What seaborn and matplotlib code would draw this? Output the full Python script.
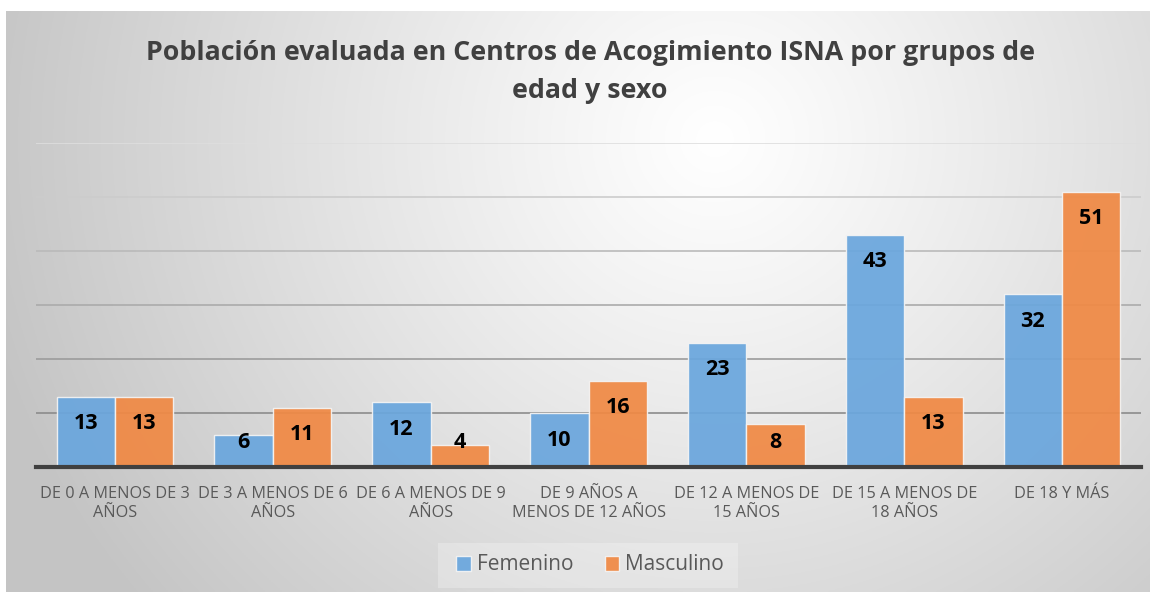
import numpy as np
import pandas as pd
import matplotlib
matplotlib.use("Agg")
import matplotlib.pyplot as plt
import seaborn as sns
from matplotlib.patches import Patch, Rectangle

categories = ["DE 0 A MENOS DE 3\nAÑOS", "DE 3 A MENOS DE 6\nAÑOS", "DE 6 A MENOS DE 9\nAÑOS",
              "DE 9 AÑOS A\nMENOS DE 12 AÑOS", "DE 12 A MENOS DE\n15 AÑOS", "DE 15 A MENOS DE\n18 AÑOS",
              "DE 18 Y MÁS"]
femenino = [13, 6, 12, 10, 23, 43, 32]
masculino = [13, 11, 4, 16, 8, 13, 51]
series = ["Femenino", "Masculino"]
title = "Población evaluada en Centros de Acogimiento ISNA por grupos de\nedad y sexo"
grid_values = [10, 20, 30, 40, 50, 60]

df = pd.DataFrame({
    "grupo": categories * 2,
    "valor": femenino + masculino,
    "sexo": [series[0]] * len(categories) + [series[1]] * len(categories),
})

sns.set_style("white")
plt.rcParams["font.family"] = ["Open Sans", "DejaVu Sans"]

W, H = 1157, 598
fig = plt.figure(figsize=(W / 100, H / 100), dpi=100)
fig.patch.set_facecolor("white")

# gradient background
bg = fig.add_axes([6 / W, 6 / H, (1150 - 6) / W, (592 - 11) / H])
bg.set_axis_off()
yy, xx = np.mgrid[0:1:300j, 0:1:600j]
cx, cy = 0.62, 0.22
d = np.sqrt(((xx - cx) * 1.9) ** 2 + ((yy - cy) * 1.0) ** 2)
d = np.clip(d / 1.25, 0, 1)
val = 1.0 - 0.23 * d ** 1.1
img = np.dstack([val, val, val])
bg.imshow(img, aspect="auto", extent=[0, 1, 0, 1], origin="upper")
bg.set_xlim(0, 1)
bg.set_ylim(0, 1)

ax = fig.add_axes([36 / W, 1 - 467 / H, (1141 - 36) / W, (467 - 143) / H])
ax.patch.set_alpha(0)
colors = ["#6aa6dd", "#f08944"]
sns.barplot(data=df, x="grupo", y="valor", hue="sexo", palette=colors, width=0.74,
            ax=ax, alpha=0.93, saturation=1.0, edgecolor="#f4f4f4", linewidth=1.0, legend=False, zorder=3)

ax.set_ylim(0, 60)
grid_colors = ["#8c8c8c", "#9c9c9c", "#ababab", "#bababa", "#cccccc", "#dedede"]
for gv, gc in zip(grid_values, grid_colors):
    ax.axhline(gv, color=gc, linewidth=1.2, zorder=1)
ax.set_yticks([])
ax.tick_params(axis="x", length=0, pad=14, labelsize=11.7, labelcolor="#595959")
ax.set_xlabel("")
ax.set_ylabel("")
for s in ["top", "right", "left"]:
    ax.spines[s].set_visible(False)
ax.spines["bottom"].set_color("#404040")
ax.spines["bottom"].set_linewidth(3)
ax.spines["bottom"].set_zorder(5)

for container in ax.containers:
    for bar in container:
        v = bar.get_height()
        ypos = max(v - 5.0, 4.5)
        ax.text(bar.get_x() + bar.get_width() / 2, ypos, f"{int(v)}", ha="center", va="center",
                fontsize=15.5, fontweight="bold", color="black", zorder=6)

fig.text(590 / W, 1 - 72 / H, title, ha="center", va="center", fontsize=19.3, fontweight="bold",
         color="#404040", linespacing=1.6)

fig.patches.append(Rectangle((438 / W, 1 - 588 / H), 300 / W, 45 / H, transform=fig.transFigure,
                             facecolor="white", alpha=0.25, edgecolor="none"))
handles = [Patch(facecolor=c, alpha=0.93, edgecolor="#f4f4f4") for c in colors]
fig.legend(handles, series, loc="center", bbox_to_anchor=(590 / W, 1 - 565 / H), ncol=2, frameon=False,
           fontsize=15, labelcolor="#595959", handlelength=0.7, handleheight=0.7, handletextpad=0.3,
           columnspacing=1.5)

fig.savefig("out.png", dpi=100)
